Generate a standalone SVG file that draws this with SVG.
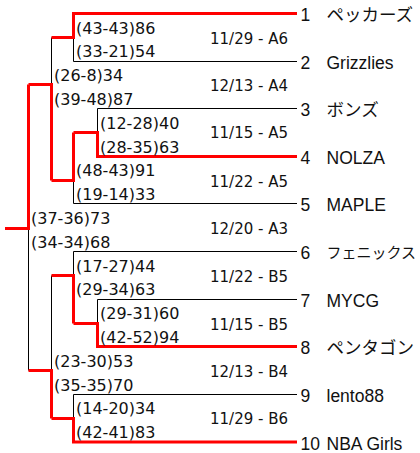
<svg xmlns="http://www.w3.org/2000/svg" width="420" height="453" viewBox="0 0 420 453">
<style>
  .bg{fill:#fff}
  .blk{fill:none;stroke:#000;stroke-width:1}
  .red{fill:none;stroke:#f00;stroke-width:3;stroke-linejoin:miter}
  .sc{font-family:"DejaVu Sans",sans-serif;font-size:16px;fill:#111}
  .dt{font-family:"DejaVu Sans",sans-serif;font-size:15px;fill:#111}
  .tm{font-family:"Liberation Sans","Noto Sans CJK JP",sans-serif;font-size:17.5px;fill:#111}
  .tm-s{font-size:15px}
</style>
<rect class="bg" x="0" y="0" width="420" height="453"/>
<g id="connectors">
  <g id="black-lines">
    <path class="blk" d="M297,61.5H73.5V37.5"/>
    <path class="blk" d="M297,108.5H97.5V132.5"/>
    <path class="blk" d="M297,203.5H73.5V180.5"/>
    <path class="blk" d="M51.5,37.5V84.5"/>
    <path class="blk" d="M28.5,370.5V228.5"/>
    <path class="blk" d="M297,299.5H97.5V323.5"/>
    <path class="blk" d="M297,251.5H73.5V275.5"/>
    <path class="blk" d="M297,394.5H73.5V418.5"/>
    <path class="blk" d="M51.5,275.5V370.5"/>
  </g>
  <g id="red-lines">
    <path class="red" d="M297,13.5H73.5V37.5H51.5"/>
    <path class="red" d="M297,156.5H97.5V132.5H73.5"/>
    <path class="red" d="M73.5,132.5V180.5H51.5"/>
    <path class="red" d="M51.5,180.5V84.5H28.5"/>
    <path class="red" d="M28.5,84.5V228.5H5"/>
    <path class="red" d="M297,346.5H97.5V323.5H73.5"/>
    <path class="red" d="M73.5,323.5V275.5H51.5"/>
    <path class="red" d="M297,442H73.5V418.5H51.5"/>
    <path class="red" d="M51.5,418.5V370.5H28.5"/>
  </g>
</g>
<g id="team-1"><text class="tm" x="300.5" y="21">1</text><text class="tm" x="326.5" y="21">ペッカーズ</text></g>
<g id="team-2"><text class="tm" x="300.5" y="69">2</text><text class="tm" x="326.5" y="69">Grizzlies</text></g>
<g id="team-3"><text class="tm" x="300.5" y="116">3</text><text class="tm" x="326.5" y="116">ボンズ</text></g>
<g id="team-4"><text class="tm" x="300.5" y="164">4</text><text class="tm" x="326.5" y="164">NOLZA</text></g>
<g id="team-5"><text class="tm" x="300.5" y="211">5</text><text class="tm" x="326.5" y="211">MAPLE</text></g>
<g id="team-6"><text class="tm" x="300.5" y="259">6</text><text class="tm tm-s" x="326.5" y="258">フェニックス</text></g>
<g id="team-7"><text class="tm" x="300.5" y="307">7</text><text class="tm" x="326.5" y="307">MYCG</text></g>
<g id="team-8"><text class="tm" x="300.5" y="354">8</text><text class="tm" x="326.5" y="354">ペンタゴン</text></g>
<g id="team-9"><text class="tm" x="300.5" y="402">9</text><text class="tm" x="326.5" y="402">lento88</text></g>
<g id="team-10"><text class="tm" x="300.5" y="449.5">10</text><text class="tm" x="326.5" y="449.5">NBA Girls</text></g>
<g id="match-A6"><text class="sc" x="76" y="33.5">(43-43)86</text><text class="sc" x="76" y="57.3">(33-21)54</text><text class="dt" x="210" y="43.5">11/29 - A6</text></g>
<g id="match-A4"><text class="sc" x="54" y="81.1">(26-8)34</text><text class="sc" x="54" y="104.9">(39-48)87</text><text class="dt" x="210" y="90.5">12/13 - A4</text></g>
<g id="match-A5a"><text class="sc" x="100" y="128.7">(12-28)40</text><text class="sc" x="100" y="152.5">(28-35)63</text><text class="dt" x="210" y="138">11/15 - A5</text></g>
<g id="match-A5b"><text class="sc" x="76" y="176.3">(48-43)91</text><text class="sc" x="76" y="200.1">(19-14)33</text><text class="dt" x="210" y="186.5">11/22 - A5</text></g>
<g id="match-A3"><text class="sc" x="31" y="223.9">(37-36)73</text><text class="sc" x="31" y="247.7">(34-34)68</text><text class="dt" x="210" y="234">12/20 - A3</text></g>
<g id="match-B5a"><text class="sc" x="76" y="271.5">(17-27)44</text><text class="sc" x="76" y="295.3">(29-34)63</text><text class="dt" x="210" y="281.5">11/22 - B5</text></g>
<g id="match-B5b"><text class="sc" x="100" y="319.1">(29-31)60</text><text class="sc" x="100" y="342.9">(42-52)94</text><text class="dt" x="210" y="329.5">11/15 - B5</text></g>
<g id="match-B4"><text class="sc" x="54" y="366.7">(23-30)53</text><text class="sc" x="54" y="390.5">(35-35)70</text><text class="dt" x="210" y="376.5">12/13 - B4</text></g>
<g id="match-B6"><text class="sc" x="76" y="414.3">(14-20)34</text><text class="sc" x="76" y="438.1">(42-41)83</text><text class="dt" x="210" y="424">11/29 - B6</text></g>
</svg>
